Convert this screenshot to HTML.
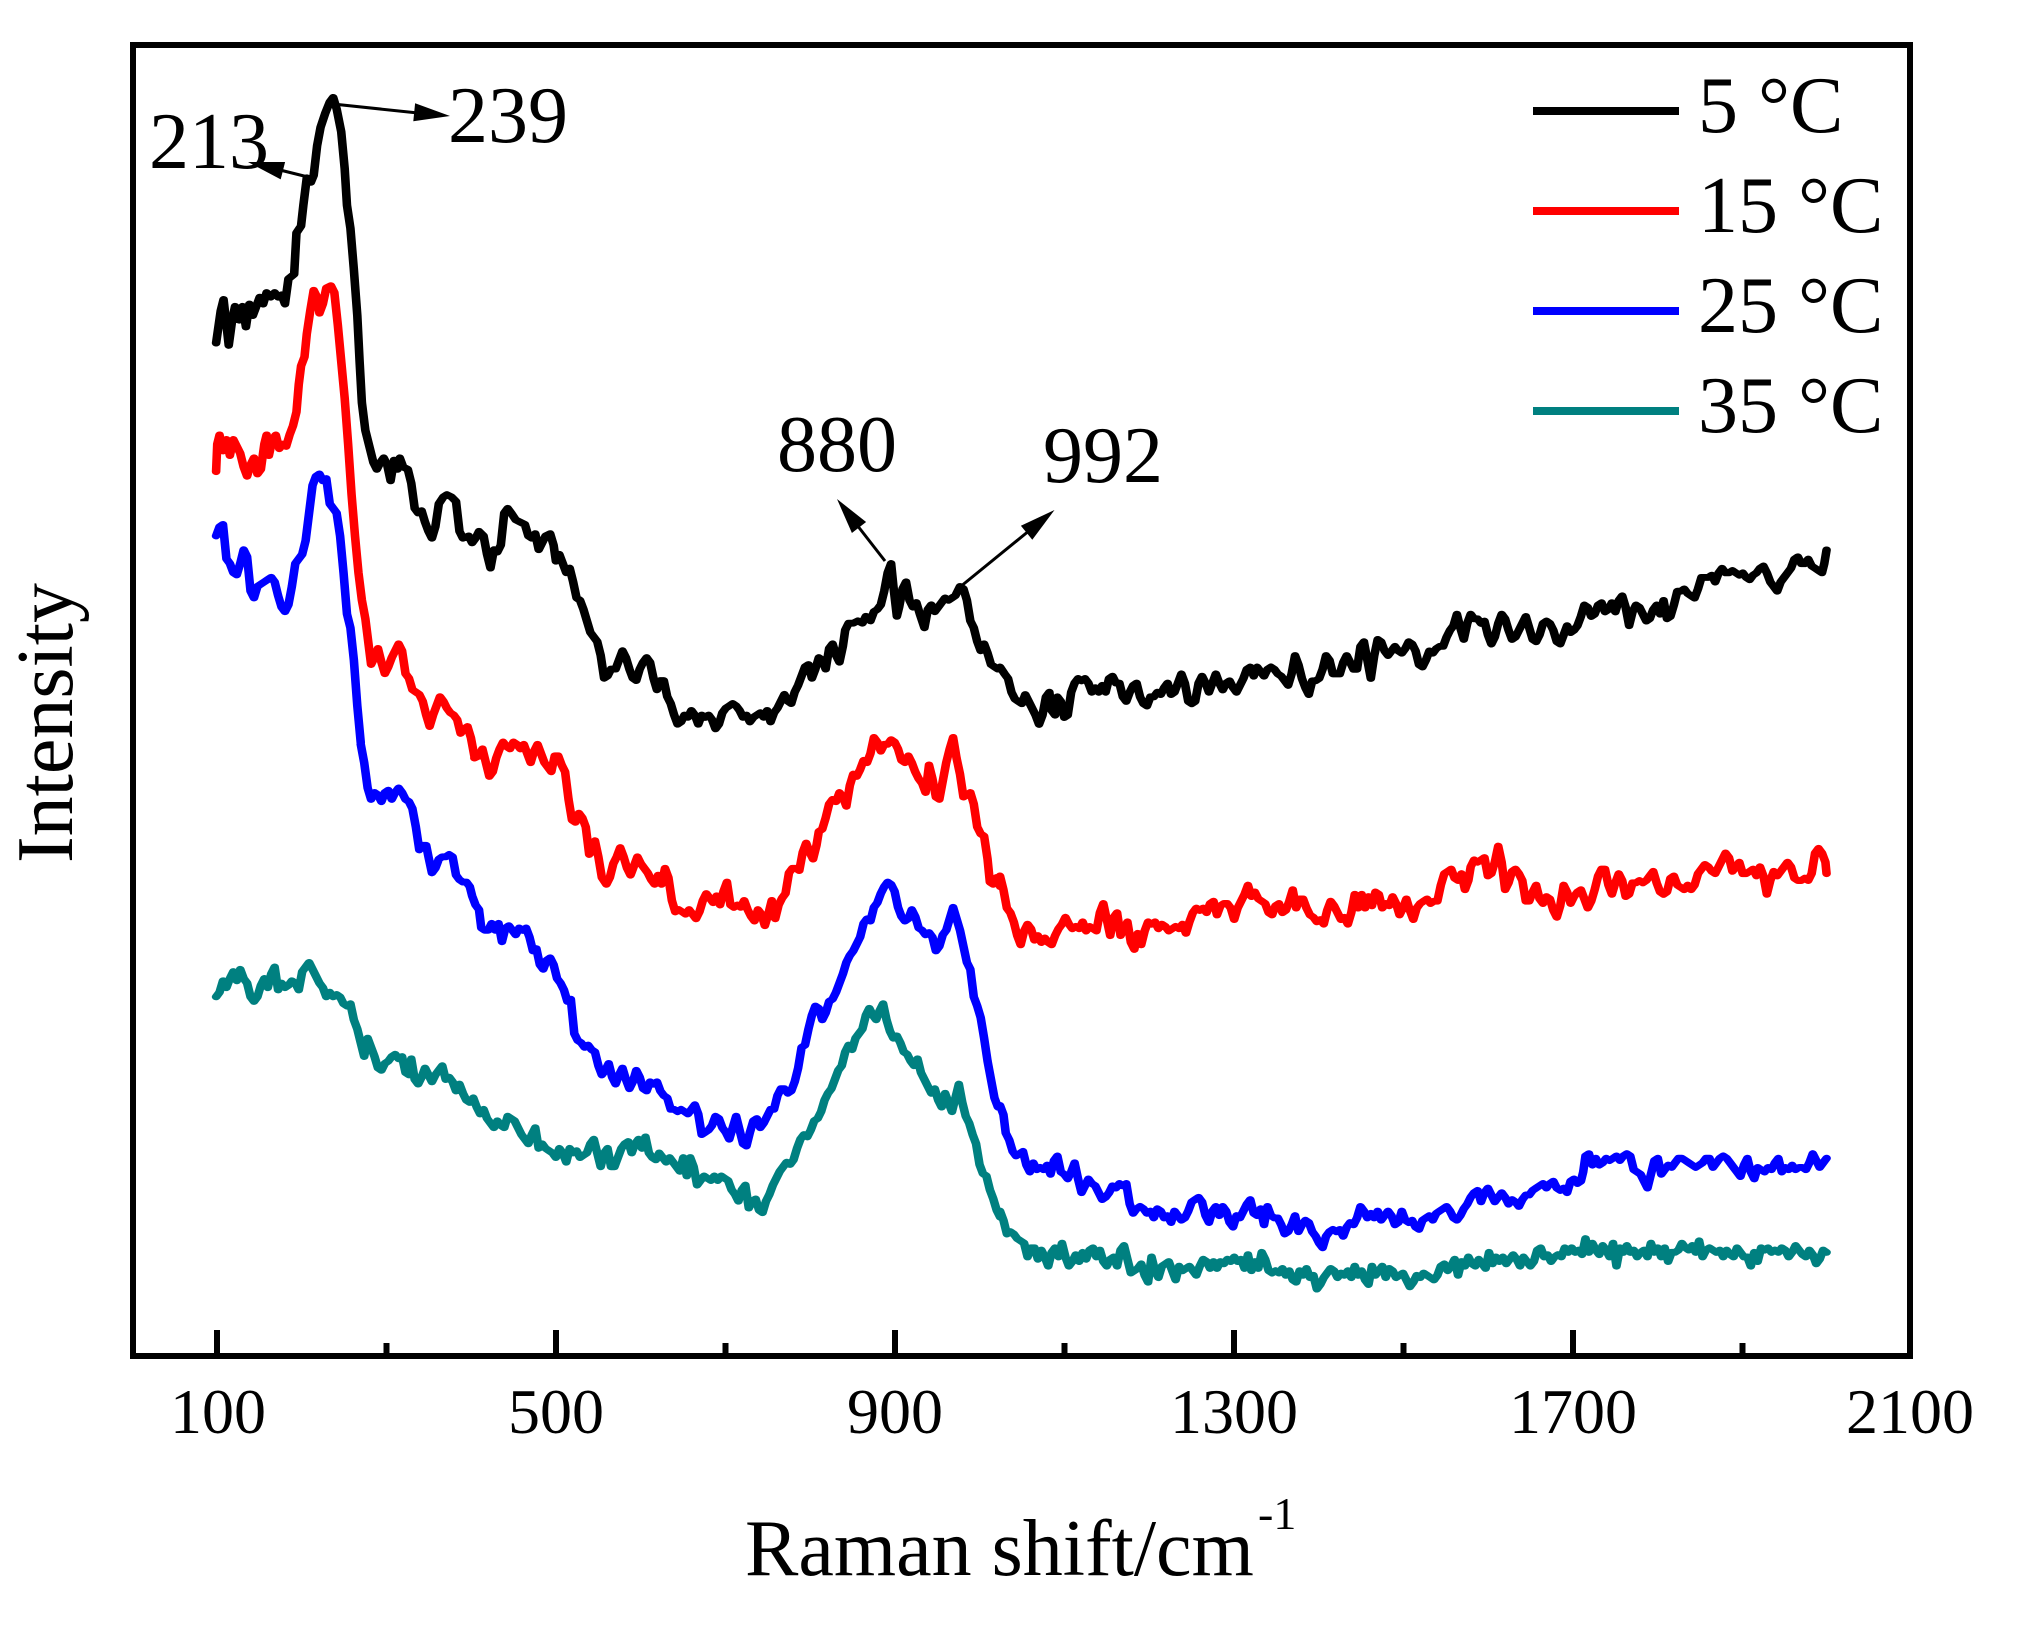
<!DOCTYPE html>
<html><head><meta charset="utf-8"><style>
html,body{margin:0;padding:0;background:#fff;}
svg{display:block;}
polyline.c{fill:none;stroke-width:15;stroke-linejoin:round;stroke-linecap:round;}
text{font-family:"Liberation Serif","Times New Roman",serif;fill:#000;}
</style></head><body>
<svg width="2035" height="1626" viewBox="0 0 2035 1626" xmlns="http://www.w3.org/2000/svg">
<rect x="0" y="0" width="2035" height="1626" fill="#fff"/>

<!-- curves: black -->
<g transform="translate(130,40) scale(0.574,0.4592)">
<polyline class="c" stroke="#000" points="150,660 158,590 163,565 168,620 172,665 178,610 183,580 190,610 196,580 202,625 208,575 214,600 220,580 226,560 232,575 238,550 245,560 252,550 258,560 264,555 270,575 276,520 286,510 290,420 298,405 302,360 308,300 315,310 320,295 326,230 332,190 340,160 348,135 354,125 360,150 368,200 374,280 378,360 384,410 390,500 396,600 400,700 404,790 410,850 418,890 424,920 430,935 436,920 442,910 448,925 454,960 460,915 466,935 470,910 476,930 484,935 490,965 496,1020 502,1030 508,1025 514,1050 520,1070 526,1085 532,1060 538,1010 546,995 552,990 560,995 568,1005 574,1070 580,1085 590,1080 596,1095 602,1085 608,1070 616,1080 622,1120 628,1150 634,1110 640,1115 646,1100 652,1030 658,1020 664,1030 672,1045 680,1050 688,1055 694,1080 700,1085 706,1075 712,1110 718,1095 724,1080 732,1075 738,1100 742,1135 748,1120 754,1140 760,1160 766,1150 772,1180 778,1215 784,1220 790,1240 796,1265 802,1290 808,1300 814,1310 820,1340 826,1390 832,1385 838,1370 846,1370 852,1350 858,1330 864,1345 870,1370 876,1390 882,1395 888,1370 894,1355 900,1345 906,1355 912,1390 918,1415 924,1395 930,1395 936,1430 942,1445 948,1470 954,1490 960,1485 966,1470 972,1475 978,1460 984,1470 990,1490 996,1470 1002,1475 1008,1470 1014,1480 1020,1500 1026,1490 1032,1465 1038,1455 1044,1450 1050,1445 1056,1450 1062,1460 1068,1475 1074,1470 1080,1485 1086,1475 1092,1470 1098,1465 1104,1475 1110,1460 1116,1485 1122,1465 1128,1455 1134,1440 1140,1425 1146,1440 1152,1445 1158,1420 1164,1405 1170,1385 1176,1365 1182,1360 1188,1390 1194,1370 1200,1345 1206,1350 1212,1370 1218,1325 1224,1315 1230,1340 1236,1355 1242,1320 1246,1285 1252,1270 1260,1270 1268,1265 1276,1270 1282,1255 1290,1265 1296,1245 1302,1240 1308,1230 1314,1200 1320,1160 1326,1140 1330,1190 1336,1255 1340,1235 1346,1195 1352,1180 1358,1220 1364,1235 1370,1225 1376,1250 1384,1280 1390,1240 1396,1230 1402,1245 1408,1235 1414,1225 1420,1215 1426,1220 1432,1215 1438,1210 1446,1190 1452,1195 1458,1220 1464,1265 1470,1280 1476,1310 1482,1330 1488,1315 1494,1335 1500,1360 1506,1365 1512,1370"/>
</g>
<g transform="translate(1000,380) scale(0.574,0.4592)">
<polyline class="c" stroke="#000" points="0,625 8,640 14,650 20,680 26,695 32,700 38,705 44,685 50,700 56,715 62,730 68,750 74,730 80,690 86,680 90,720 96,730 100,690 106,700 112,735 118,730 124,680 130,660 136,650 142,655 148,650 154,660 160,680 166,670 172,680 178,665 184,680 190,650 196,645 202,660 208,660 214,690 220,700 226,680 232,665 238,660 244,690 250,705 256,710 262,690 268,690 274,680 280,685 286,670 292,660 298,685 304,680 310,660 316,640 322,660 328,700 334,705 340,700 346,660 352,645 358,660 364,680 370,660 376,640 382,660 388,675 394,660 400,655 406,670 412,680 418,665 424,650 430,630 436,625 442,645 448,625 454,635 460,645 466,630 472,625 478,630 484,640 490,645 496,655 502,665 508,640 514,600 520,620 526,650 532,670 538,685 544,655 550,655 556,650 562,630 568,600 574,610 580,640 586,640 592,640 598,615 604,600 610,615 616,630 622,630 628,580 634,570 640,610 646,650 652,600 658,565 664,570 670,590 676,600 682,590 688,580 694,590 700,595 706,585 712,570 718,575 724,590 730,620 736,625 742,610 748,590 754,595 760,585 766,580 772,580 778,560 784,545 790,535 796,510 802,540 808,565 814,530 820,510 826,520 832,520 838,530 844,525 850,555 856,575 862,560 868,530 874,510 880,520 886,545 892,565 898,560 904,545 910,530 916,515 922,540 928,565 934,570 940,555 946,530 952,525 958,530 964,545 970,570 976,575 982,555 988,535 994,550 1000,545 1006,535 1012,515 1018,490 1024,495 1030,515 1036,510 1042,490 1048,485 1054,505 1060,500 1066,485 1072,505 1078,480 1084,470 1090,495 1096,535 1102,505 1108,490 1114,495 1120,510 1126,525 1132,520 1138,500 1144,490 1150,510 1156,480 1162,520 1168,515 1174,490 1180,460 1186,460 1192,455 1198,465 1204,470 1210,475 1216,455 1222,430 1228,430 1234,430 1240,425 1246,440 1252,420 1258,410 1264,420 1270,420 1276,415 1282,420 1288,425 1294,420 1300,430 1306,435 1312,425 1318,420 1324,410 1330,405 1336,420 1342,440 1348,450 1354,460 1360,440 1366,430 1372,420 1378,410 1384,390 1390,385 1396,400 1402,400 1408,390 1414,405 1420,410 1426,415 1432,420 1436,400 1440,370"/>
</g>

<!-- red -->
<g transform="translate(130,40) scale(0.574,0.4592)">
<polyline class="c" stroke="#ff0000" points="150,940 152,880 156,860 162,895 168,870 174,905 180,870 186,885 192,900 198,930 204,950 210,925 216,910 222,945 228,935 234,880 238,860 242,905 248,870 254,860 260,890 266,880 272,885 278,860 284,840 290,810 294,750 298,710 304,690 308,640 314,590 320,545 326,560 330,595 336,575 342,540 350,535 356,550 362,620 368,700 374,780 380,880 386,990 392,1080 398,1160 404,1220 410,1260 416,1320 420,1360 426,1345 432,1325 438,1355 444,1380 450,1365 456,1345 462,1330 468,1315 474,1330 480,1380 486,1390 492,1415 498,1420 504,1425 510,1440 516,1470 522,1495 528,1470 534,1450 540,1430 546,1440 552,1455 558,1465 564,1470 570,1480 576,1510 582,1500 588,1495 594,1520 600,1560"/>
</g>
<g transform="translate(130,680) scale(0.574,0.4592)">
<polyline class="c" stroke="#ff0000" points="600,170 608,165 614,150 620,180 626,210 632,200 638,170 644,150 650,135 656,145 662,150 668,135 674,140 680,150 686,140 692,160 698,180 704,155 710,140 716,160 722,180 728,190 734,200 740,165 746,165 752,185 758,200 764,260 770,305 776,310 782,290 788,300 794,320 800,380 806,370 810,350 816,385 822,430 830,445 836,430 842,400 848,385 854,365 860,385 866,410 872,425 878,405 884,385 890,400 896,410 902,420 908,435 914,445 920,425 926,445 932,410 938,430 944,480 950,505 956,500 962,505 968,510 974,500 980,510 986,520 992,505 998,480 1004,465 1010,475 1016,485 1022,470 1028,490 1034,460 1040,440 1046,490 1052,495 1058,490 1064,495 1070,480 1076,500 1082,515 1088,525 1094,500 1100,510 1106,535 1112,510 1118,480 1124,520 1130,490 1136,475 1142,465 1148,420 1154,410 1160,410 1166,415 1172,375 1178,355 1184,375 1190,390 1196,360 1200,330 1206,325 1212,300 1218,270 1224,260 1230,265 1236,245 1242,255 1248,275 1254,230 1260,205 1266,210 1272,195 1278,175 1284,180 1290,160 1296,125 1302,135 1308,155 1314,140 1320,140 1326,130 1332,135 1338,150 1344,175 1350,180 1356,165 1362,180 1368,200 1374,215 1380,225 1386,245 1392,185 1398,215 1404,255 1410,260 1416,220 1422,180 1428,150 1434,125 1440,170 1446,205 1452,255 1458,250 1464,245 1470,270 1476,320 1482,335 1488,340 1494,390 1498,440 1504,445 1510,430 1516,450"/>
</g>
<g transform="translate(1000,380) scale(0.574,0.4592)">
<polyline class="c" stroke="#ff0000" points="0,1080 6,1110 12,1150 18,1160 24,1180 30,1210 36,1230 42,1200 48,1185 54,1195 60,1220 66,1210 72,1225 78,1215 84,1225 90,1230 96,1210 102,1195 108,1185 114,1170 120,1185 126,1195 132,1190 138,1195 144,1180 150,1200 156,1190 162,1195 168,1200 174,1160 180,1140 186,1175 192,1210 198,1170 204,1160 210,1210 216,1195 222,1180 228,1225 234,1240 240,1205 246,1230 252,1200 258,1180 264,1185 270,1180 276,1195 282,1185 288,1190 294,1200 300,1195 306,1190 312,1195 318,1185 324,1205 330,1180 336,1160 342,1150 348,1155 354,1150 360,1160 366,1140 372,1135 378,1165 384,1145 390,1140 396,1140 402,1150 408,1175 414,1150 420,1135 426,1120 432,1100 438,1125 444,1115 450,1130 456,1135 462,1140 468,1160 474,1165 480,1145 486,1140 492,1160 498,1155 504,1135 510,1110 516,1150 522,1130 528,1130 534,1150 540,1165 546,1170 552,1180 558,1175 564,1185 570,1155 576,1135 582,1145 588,1160 594,1175 600,1170 606,1185 612,1160 618,1120 624,1150 630,1120 636,1150 642,1125 648,1145 654,1115 660,1120 666,1150 672,1140 678,1145 684,1125 690,1140 696,1165 702,1150 708,1130 714,1155 720,1175 726,1150 732,1140 738,1135 744,1130 750,1140 756,1135 762,1135 768,1100 774,1075 780,1070 786,1065 792,1085 798,1090 804,1075 810,1110 816,1090 820,1060 826,1045 832,1050 838,1045 844,1040 850,1080 856,1075 862,1050 868,1015 874,1050 880,1110 886,1095 892,1070 898,1065 904,1075 910,1090 916,1135 922,1135 928,1115 934,1100 940,1130 946,1140 952,1125 958,1130 964,1155 970,1170 976,1145 982,1100 988,1115 994,1140 1000,1125 1006,1115 1012,1110 1018,1130 1024,1150 1030,1135 1036,1110 1042,1080 1048,1065 1054,1065 1060,1100 1066,1120 1072,1095 1078,1075 1084,1090 1090,1125 1096,1120 1102,1095 1108,1095 1114,1090 1120,1095 1126,1090 1132,1080 1138,1070 1144,1095 1150,1115 1156,1120 1162,1115 1168,1085 1174,1080 1180,1100 1186,1105 1192,1110 1198,1100 1204,1110 1210,1100 1216,1075 1222,1065 1228,1055 1234,1060 1240,1070 1246,1075 1252,1060 1258,1045 1264,1030 1270,1040 1276,1070 1282,1060 1288,1050 1294,1075 1300,1075 1306,1070 1312,1065 1318,1080 1324,1060 1330,1080 1336,1120 1342,1090 1348,1070 1354,1080 1360,1070 1366,1060 1372,1050 1378,1060 1384,1085 1390,1090 1396,1090 1402,1085 1408,1090 1414,1075 1420,1030 1426,1020 1432,1030 1438,1050 1440,1075"/>
</g>

<!-- blue -->
<g transform="translate(130,40) scale(0.574,0.4592)">
<polyline class="c" stroke="#0000ff" points="150,1080 156,1060 162,1055 168,1130 174,1140 180,1160 186,1165 192,1140 198,1110 204,1125 210,1200 216,1215 222,1190 228,1185 234,1180 240,1175 246,1170 252,1180 258,1210 264,1235 270,1245 276,1230 282,1190 288,1140 294,1130 300,1120 306,1090 312,1030 318,970 324,950 330,945 336,960 342,955 348,1010 354,1020 360,1030 366,1080 372,1160 378,1250 384,1280 390,1350 396,1450 402,1530"/>
</g>
<g transform="translate(130,680) scale(0.574,0.4592)">
<polyline class="c" stroke="#0000ff" points="402,140 408,180 414,235 420,260 426,245 432,250 438,265 444,245 450,240 456,260 462,245 468,235 474,245 480,260 486,265 492,280 498,320 504,370 510,360 516,360 520,385 526,420 532,410 538,390 544,385 550,385 556,380 562,385 568,425 574,435 580,440 586,440 592,450 596,470 602,490 608,500 612,540 618,545 624,545 630,530 636,545 642,530 648,570 654,540 660,535 666,545 672,555 678,540 684,545 690,540 696,560 702,590 708,585 714,620 720,630 726,610 732,605 738,620 744,650 750,660 756,675 762,700 768,695 774,770 780,785 786,790 792,800 798,795 804,805 810,810 816,840 822,860 828,850 834,835 840,865 846,880 852,860 858,845 864,870 870,890 876,875 882,850 888,865 894,890 900,895 906,875 912,880 918,875 924,895 930,905 936,910 942,935 948,935 954,940 960,935 966,940 972,945 978,935 984,925 990,945 996,990 1002,985 1008,980 1014,970 1020,950 1026,955 1032,975 1038,985 1044,1000 1050,975 1056,950 1062,980 1068,1010 1074,1015 1080,985 1086,960 1092,955 1098,975 1104,965 1110,950 1116,935 1122,935 1128,905 1134,890 1140,890 1146,900 1152,895 1158,875 1164,845 1170,800 1176,795 1182,760 1188,730 1194,710 1200,715 1206,740 1212,725 1218,700 1224,695 1230,680 1236,660 1242,640 1248,615 1254,600 1260,590 1266,575 1272,560 1278,530 1284,520 1290,525 1296,495 1302,485 1308,465 1314,450 1320,440 1326,445 1332,460 1338,495 1344,515 1350,525 1356,520 1362,500 1368,515 1374,540 1380,545 1386,555 1392,550 1398,560 1404,590 1410,580 1416,555 1422,545 1428,520 1434,495 1440,520 1446,545 1452,580 1458,615 1464,630 1470,690 1476,710 1482,735 1488,780 1494,830 1500,870 1506,910 1512,930"/>
</g>
<g transform="translate(1000,660) scale(0.574,0.4592)">
<polyline class="c" stroke="#0000ff" points="0,970 6,990 10,1030 16,1045 22,1070 28,1080 34,1075 40,1070 46,1100 52,1115 58,1095 64,1110 70,1105 76,1110 82,1100 88,1120 94,1090 100,1080 106,1115 112,1120 118,1130 124,1115 130,1095 136,1130 142,1160 148,1145 154,1130 160,1140 166,1145 172,1160 178,1175 184,1170 190,1160 196,1145 202,1150 208,1140 214,1145 220,1140 226,1185 232,1205 238,1195 244,1190 250,1195 256,1205 262,1200 268,1215 274,1195 280,1200 286,1215 292,1210 298,1225 304,1200 310,1210 316,1220 322,1215 328,1200 334,1180 340,1175 346,1170 352,1180 358,1210 364,1225 370,1200 376,1190 382,1210 388,1190 394,1200 400,1225 406,1235 412,1210 418,1215 424,1200 430,1185 436,1175 442,1205 448,1210 454,1195 460,1230 466,1190 472,1210 478,1215 484,1215 490,1230 496,1250 502,1245 508,1230 514,1210 520,1245 526,1230 532,1220 538,1225 544,1245 550,1255 556,1270 562,1280 568,1255 574,1245 580,1240 586,1245 592,1240 598,1255 604,1235 610,1225 616,1230 622,1215 628,1190 634,1200 640,1215 646,1205 652,1215 658,1200 664,1220 670,1210 676,1200 682,1210 688,1230 694,1225 700,1200 706,1220 712,1225 718,1220 724,1235 730,1240 736,1220 742,1215 748,1210 754,1220 760,1205 766,1200 772,1195 778,1190 784,1200 790,1215 796,1220 802,1210 808,1195 814,1185 820,1170 826,1160 832,1155 838,1180 844,1160 850,1150 856,1165 862,1180 868,1170 874,1160 880,1170 886,1185 892,1175 898,1180 904,1190 910,1175 916,1165 922,1165 928,1155 934,1150 940,1145 946,1140 952,1150 958,1140 964,1135 970,1150 976,1155 982,1150 988,1160 994,1135 1000,1130 1006,1140 1012,1135 1016,1115 1020,1080 1026,1075 1032,1100 1038,1085 1044,1100 1050,1095 1056,1085 1062,1090 1068,1085 1074,1080 1080,1090 1086,1080 1092,1075 1098,1080 1104,1110 1110,1115 1116,1120 1122,1135 1128,1150 1134,1120 1140,1090 1146,1085 1152,1120 1158,1110 1164,1100 1170,1105 1176,1095 1182,1085 1188,1085 1194,1090 1200,1095 1206,1100 1212,1105 1218,1100 1224,1095 1230,1085 1236,1085 1242,1105 1248,1095 1254,1085 1260,1080 1266,1085 1272,1095 1278,1105 1284,1115 1290,1125 1296,1100 1302,1085 1308,1115 1314,1130 1320,1105 1326,1110 1332,1115 1338,1105 1344,1110 1350,1095 1356,1085 1362,1115 1368,1105 1374,1110 1380,1100 1386,1110 1392,1105 1398,1105 1404,1110 1410,1095 1416,1075 1422,1090 1428,1105 1434,1095 1440,1085"/>
</g>

<!-- teal -->
<g transform="translate(130,680) scale(0.574,0.4592)">
<polyline class="c" stroke="#008080" points="150,690 156,680 162,655 168,670 174,650 180,635 186,655 192,630 198,650 204,660 210,690 216,700 222,690 228,665 234,650 240,670 246,640 252,625 258,675 264,660 270,670 276,665 282,655 288,660 294,675 300,635 306,625 312,615 318,630 324,645 330,660 336,670 342,690 348,680 354,690 360,685 366,690 372,705 378,710 384,705 390,740 396,760 402,790 408,820 414,780 420,800 426,820 432,845 438,850 444,835 450,830 456,820 462,815 468,825 474,820 480,855 486,860 490,825 496,870 502,880 508,865 514,845 520,860 526,875 532,860 538,850 544,840 550,870 556,865 562,875 568,895 574,880 580,900 586,915 592,920 598,910 604,930 610,945 616,935 622,955 628,965 634,975 640,960 646,970 652,975 658,950 664,955 670,960 676,975 682,990 688,1000 694,1010 700,990 706,975 712,1020 718,1010 724,1020 730,1025 736,1030 742,1040 748,1020 754,1030 760,1050 766,1020 772,1030 778,1025 784,1040 790,1035 796,1030 802,1010 808,1000 814,1030 820,1060 826,1030 832,1020 838,1060 844,1060 850,1040 856,1020 862,1010 868,1005 874,1030 880,1010 886,1000 892,1020 898,995 904,1030 910,1040 916,1045 922,1030 928,1040 934,1050 940,1040 946,1050 952,1060 958,1070 964,1040 970,1080 976,1040 982,1060 988,1100 994,1090 1000,1080 1006,1085 1012,1090 1018,1080 1024,1090 1030,1080 1036,1085 1042,1090 1048,1110 1054,1120 1060,1135 1066,1110 1072,1100 1078,1150 1084,1135 1090,1130 1096,1155 1102,1160 1108,1135 1114,1120 1120,1100 1126,1085 1132,1070 1138,1060 1144,1050 1150,1055 1156,1045 1162,1020 1168,1000 1174,990 1180,995 1186,980 1192,960 1198,955 1204,940 1210,915 1216,900 1222,890 1228,870 1234,850 1240,840 1246,810 1252,795 1258,805 1264,780 1270,770 1276,760 1282,730 1288,715 1294,730 1300,740 1306,720 1312,705 1318,740 1324,765 1330,780 1336,775 1342,790 1348,810 1354,815 1360,830 1366,840 1372,825 1378,855 1384,870 1390,885 1396,900 1402,890 1408,915 1414,930 1420,900 1426,920 1432,940 1438,910 1444,880 1450,920 1456,950 1462,965 1468,990 1474,1010 1480,1055 1486,1075 1492,1080 1498,1110 1504,1130 1510,1155 1516,1170"/>
</g>
<g transform="translate(1000,660) scale(0.574,0.4592)">
<polyline class="c" stroke="#008080" points="0,1200 6,1220 12,1250 18,1245 24,1250 30,1260 36,1265 42,1270 48,1300 54,1280 60,1280 66,1305 72,1285 78,1300 84,1320 90,1290 96,1280 102,1300 108,1270 114,1300 120,1320 126,1310 132,1295 138,1310 144,1290 150,1305 156,1285 162,1280 168,1300 174,1285 180,1310 186,1320 192,1305 198,1300 204,1320 210,1285 216,1275 222,1305 228,1335 234,1330 240,1325 246,1315 252,1340 258,1355 264,1300 270,1330 276,1345 282,1320 288,1315 294,1310 300,1330 306,1350 312,1320 318,1330 324,1325 330,1320 336,1330 342,1340 348,1320 354,1305 360,1310 366,1325 372,1310 378,1325 384,1310 390,1315 396,1305 402,1310 408,1300 414,1310 420,1305 426,1325 432,1295 438,1330 444,1310 450,1325 456,1290 462,1305 468,1330 474,1335 480,1330 486,1335 492,1325 498,1340 504,1330 510,1350 516,1355 522,1330 528,1340 534,1325 540,1345 546,1340 552,1370 558,1360 564,1345 570,1335 576,1325 582,1330 588,1345 594,1335 600,1340 606,1330 612,1345 618,1320 624,1340 630,1330 636,1350 642,1360 648,1320 654,1340 660,1330 666,1320 672,1345 678,1325 684,1330 690,1345 696,1340 702,1335 708,1350 714,1365 720,1355 726,1340 732,1345 738,1335 744,1340 750,1345 756,1350 762,1340 768,1320 774,1315 780,1330 786,1320 792,1305 798,1340 804,1310 810,1320 816,1300 822,1315 828,1320 834,1305 840,1315 846,1325 852,1290 858,1315 864,1300 870,1310 876,1300 882,1315 888,1305 894,1295 900,1305 906,1320 912,1300 918,1310 924,1320 930,1310 936,1285 942,1280 948,1300 954,1295 960,1310 966,1300 972,1295 978,1300 984,1280 990,1290 996,1280 1002,1290 1008,1285 1014,1295 1020,1260 1026,1290 1032,1270 1038,1285 1044,1295 1050,1275 1056,1285 1062,1300 1068,1270 1074,1320 1080,1280 1086,1290 1092,1275 1098,1290 1104,1285 1110,1300 1116,1290 1122,1285 1128,1300 1134,1270 1140,1290 1146,1280 1152,1300 1158,1280 1164,1310 1170,1290 1176,1290 1182,1285 1188,1270 1194,1280 1200,1285 1206,1275 1212,1290 1218,1265 1224,1300 1230,1285 1236,1280 1242,1285 1248,1290 1254,1285 1260,1300 1266,1285 1272,1295 1278,1300 1284,1280 1290,1290 1296,1300 1302,1300 1308,1320 1314,1290 1320,1310 1326,1280 1332,1285 1338,1280 1344,1290 1350,1285 1356,1290 1362,1280 1368,1285 1374,1300 1380,1290 1386,1275 1392,1285 1398,1295 1404,1300 1410,1285 1416,1295 1422,1315 1428,1305 1434,1285 1440,1290"/>
</g>

<!-- axes frame -->
<rect x="133" y="45" width="1777" height="1311" fill="none" stroke="#000" stroke-width="6"/>
<!-- ticks -->
<g stroke="#000" stroke-width="6">
<line x1="217" y1="1330" x2="217" y2="1356"/>
<line x1="386.5" y1="1343" x2="386.5" y2="1356"/>
<line x1="556" y1="1330" x2="556" y2="1356"/>
<line x1="725.5" y1="1343" x2="725.5" y2="1356"/>
<line x1="895" y1="1330" x2="895" y2="1356"/>
<line x1="1064.5" y1="1343" x2="1064.5" y2="1356"/>
<line x1="1234" y1="1330" x2="1234" y2="1356"/>
<line x1="1403.5" y1="1343" x2="1403.5" y2="1356"/>
<line x1="1573" y1="1330" x2="1573" y2="1356"/>
<line x1="1742.5" y1="1343" x2="1742.5" y2="1356"/>
</g>
<!-- tick labels -->
<g font-size="64" text-anchor="middle">
<text x="218" y="1433">100</text>
<text x="556" y="1433">500</text>
<text x="895" y="1433">900</text>
<text x="1234" y="1433">1300</text>
<text x="1573" y="1433">1700</text>
<text x="1910" y="1433">2100</text>
</g>

<!-- axis titles -->
<text x="745" y="1575" font-size="80">Raman shift/cm</text>
<text x="1258" y="1529" font-size="46">-1</text>
<text font-size="80" text-anchor="middle" transform="translate(72,723) rotate(-90)">Intensity</text>

<!-- legend -->
<g stroke-width="8">
<line x1="1533" y1="111" x2="1679" y2="111" stroke="#000"/>
<line x1="1533" y1="211" x2="1679" y2="211" stroke="#ff0000"/>
<line x1="1533" y1="311" x2="1679" y2="311" stroke="#0000ff"/>
<line x1="1533" y1="411" x2="1679" y2="411" stroke="#008080"/>
</g>
<g font-size="80">
<text x="1698" y="132">5 °C</text>
<text x="1698" y="232">15 °C</text>
<text x="1698" y="332">25 °C</text>
<text x="1698" y="432">35 °C</text>
</g>

<!-- annotations -->
<g font-size="80">
<text x="149" y="168">213</text>
<text x="448" y="142">239</text>
<text x="777" y="471">880</text>
<text x="1043" y="482">992</text>
</g>
<g stroke="#000" stroke-width="3">
<line x1="312" y1="178" x2="280" y2="170"/>
<line x1="333" y1="104" x2="418" y2="113"/>
<line x1="885" y1="561" x2="857" y2="525"/>
<line x1="960.6" y1="586.5" x2="1030" y2="530"/>
</g>
<g fill="#000">
<polygon points="248,162 285.1,162.0 280.7,179.4"/>
<polygon points="450,116 413.3,121.3 415.1,103.3"/>
<polygon points="837,499 866.1,522.0 851.9,533.0"/>
<polygon points="1054.5,510 1032.3,539.8 1020.9,525.8"/>
</g>
</svg>
</body></html>
